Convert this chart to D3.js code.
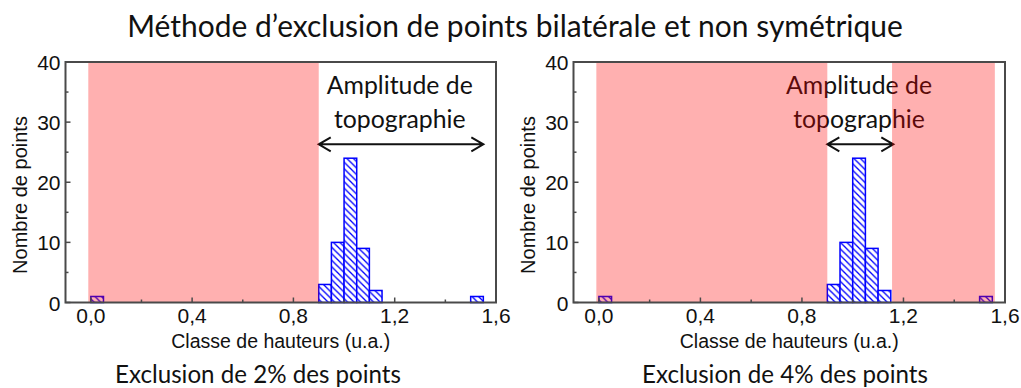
<!DOCTYPE html>
<html>
<head>
<meta charset="utf-8">
<script src="https://cdn.jsdelivr.net/npm/d3@7"></script>
<style>
  html, body { margin: 0; padding: 0; background: #fff; }
  svg { display: block; }
</style>
</head>
<body>
<svg id="chart" width="1021" height="388"></svg>
<script>
// Histogram of height classes (bin start, count per bin)
const binStarts = [0.0, 0.9, 0.95, 1.0, 1.05, 1.1, 1.5];
const binCounts = [1, 3, 10, 24, 9, 2, 1];
const binWidth = 0.05;

const xDomain = [-0.1, 1.6];
const yDomain = [0, 40];
const xMajorTicks = [0, 0.4, 0.8, 1.2, 1.6];
const xMinorTicks = [0.2, 0.6, 1.0, 1.4];
const yMajorTicks = [0, 10, 20, 30, 40];
const yMinorTicks = [5, 15, 25, 35];

// Excluded height ranges and topography amplitude for each panel
const excludedLeft = [[-0.01, 0.9]];
const excludedRight = [[-0.01, 0.9], [1.155, 1.56]];
const amplitudeLeft = [0.9, 1.55];
const amplitudeRight = [0.9, 1.16];

const titleText = "Méthode d’exclusion de points bilatérale et non symétrique";
const captions = ["Exclusion de 2% des points", "Exclusion de 4% des points"];
const xLabel = "Classe de hauteurs (u.a.)";
const yLabel = "Nombre de points";

const svg = d3.select("#chart");
const sansUI = "Lato, 'Open Sans', sans-serif";
const sansAxis = "'Liberation Sans', Arial, sans-serif";

// scale a text's font size so it spans the given width
function fitWidth(sel, width) {
  const base = 40;
  sel.attr("font-size", base);
  const w = sel.node().getComputedTextLength();
  sel.attr("font-size", base * width / w);
  return sel;
}

const defs = svg.append("defs");
const hatch = defs.append("pattern")
  .attr("id", "hatch")
  .attr("patternUnits", "userSpaceOnUse")
  .attr("width", 6.5).attr("height", 6.5);
hatch.append("rect").attr("width", 6.5).attr("height", 6.5).attr("fill", "#fff");
hatch.append("path")
  .attr("d", "M-1,-1 L7.5,7.5 M-1,5.5 L1,7.5 M5.5,-1 L7.5,1")
  .attr("stroke", "#0000ff").attr("stroke-width", 1.3);

// title
fitWidth(svg.append("text")
  .attr("x", 515).attr("y", 37)
  .attr("text-anchor", "middle")
  .attr("font-family", sansUI)
  .attr("fill", "#111")
  .text(titleText), 776);

const panels = [
  { x0: 65.5, x1: 496, excluded: excludedLeft, amplitude: amplitudeLeft, textX: 1.22, caption: captions[0], capX: 258 },
  { x0: 573.5, x1: 1005, excluded: excludedRight, amplitude: amplitudeRight, textX: 1.025, caption: captions[1], capX: 785 }
];
const yTop = 62, yBottom = 302.5;

panels.forEach(p => {
  const g = svg.append("g");
  const x = d3.scaleLinear().domain(xDomain).range([p.x0, p.x1]);
  const y = d3.scaleLinear().domain(yDomain).range([yBottom, yTop]);

  // histogram bars
  g.selectAll("rect.bar")
    .data(binStarts.map((s, i) => ({ s, c: binCounts[i] })))
    .join("rect")
    .attr("class", "bar")
    .attr("x", d => x(d.s))
    .attr("width", d => x(d.s + binWidth) - x(d.s))
    .attr("y", d => y(d.c))
    .attr("height", d => y(0) - y(d.c))
    .attr("fill", "url(#hatch)")
    .attr("stroke", "#0000ff")
    .attr("stroke-width", 1.5);

  // amplitude annotation
  const ay = y(26.3);
  const ax0 = x(p.amplitude[0]), ax1 = x(p.amplitude[1]);
  g.append("path")
    .attr("d", `M${ax0},${ay} L${ax1},${ay} M${ax0 + 12},${ay - 7} L${ax0},${ay} L${ax0 + 12},${ay + 7} M${ax1 - 12},${ay - 7} L${ax1},${ay} L${ax1 - 12},${ay + 7}`)
    .attr("fill", "none").attr("stroke", "#111").attr("stroke-width", 2);
  const t1 = g.append("text")
    .attr("x", x(p.textX)).attr("y", y(34.6))
    .attr("text-anchor", "middle").attr("font-family", sansUI).attr("fill", "#111")
    .text("Amplitude de");
  fitWidth(t1, 146);
  g.append("text")
    .attr("x", x(p.textX)).attr("y", y(29.1))
    .attr("text-anchor", "middle").attr("font-family", sansUI).attr("fill", "#111")
    .attr("font-size", t1.attr("font-size"))
    .text("topographie");

  // excluded zones (translucent red over the data)
  g.selectAll("rect.excl")
    .data(p.excluded)
    .join("rect")
    .attr("class", "excl")
    .attr("x", d => x(d[0]))
    .attr("width", d => x(d[1]) - x(d[0]))
    .attr("y", yTop).attr("height", yBottom - yTop)
    .attr("fill", "rgb(255,0,0)").attr("fill-opacity", 0.31);

  // ticks (inward)
  const axisColor = "#4a4a4a";
  g.selectAll("line.xmaj").data(xMajorTicks).join("line")
    .attr("x1", d => x(d)).attr("x2", d => x(d))
    .attr("y1", yBottom).attr("y2", yBottom - 5)
    .attr("stroke", axisColor).attr("stroke-width", 1.5);
  g.selectAll("line.xmin").data(xMinorTicks).join("line")
    .attr("x1", d => x(d)).attr("x2", d => x(d))
    .attr("y1", yBottom).attr("y2", yBottom - 3)
    .attr("stroke", axisColor).attr("stroke-width", 1.5);
  g.selectAll("line.ymaj").data(yMajorTicks).join("line")
    .attr("x1", p.x0).attr("x2", p.x0 + 5)
    .attr("y1", d => y(d)).attr("y2", d => y(d))
    .attr("stroke", axisColor).attr("stroke-width", 1.5);
  g.selectAll("line.ymin").data(yMinorTicks).join("line")
    .attr("x1", p.x0).attr("x2", p.x0 + 3)
    .attr("y1", d => y(d)).attr("y2", d => y(d))
    .attr("stroke", axisColor).attr("stroke-width", 1.5);

  // frame
  g.append("rect")
    .attr("x", p.x0).attr("y", yTop)
    .attr("width", p.x1 - p.x0).attr("height", yBottom - yTop)
    .attr("fill", "none").attr("stroke", axisColor).attr("stroke-width", 2);

  // tick labels
  const fmt = d => d3.format(".1f")(d).replace(".", ",");
  g.selectAll("text.xt").data(xMajorTicks).join("text")
    .attr("x", d => x(d)).attr("y", yBottom + 20.5)
    .attr("text-anchor", "middle").attr("font-family", sansAxis)
    .attr("font-size", 21).attr("fill", "#111")
    .text(fmt);
  g.selectAll("text.yt").data(yMajorTicks).join("text")
    .attr("x", p.x0 - 5).attr("y", d => y(d) + 8)
    .attr("text-anchor", "end").attr("font-family", sansAxis)
    .attr("font-size", 21).attr("fill", "#111")
    .text(d => d);

  // axis titles
  g.append("text")
    .attr("x", (p.x0 + p.x1) / 2).attr("y", 348)
    .attr("text-anchor", "middle").attr("font-family", sansAxis)
    .attr("font-size", 19.5).attr("fill", "#111")
    .text(xLabel);
  g.append("text")
    .attr("transform", `translate(${p.x0 - 39},195) rotate(-90)`)
    .attr("text-anchor", "middle").attr("font-family", sansAxis)
    .attr("font-size", 20).attr("fill", "#111")
    .text(yLabel);

  // caption
  fitWidth(g.append("text")
    .attr("x", p.capX).attr("y", 383)
    .attr("text-anchor", "middle").attr("font-family", sansUI)
    .attr("fill", "#111")
    .text(p.caption), 286);
});
</script>
</body>
</html>
